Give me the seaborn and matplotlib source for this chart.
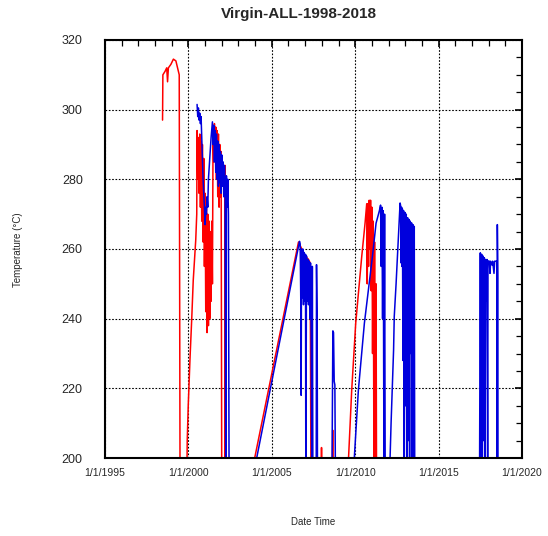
# Virgin-ALL-1998-2018 temperature record, two sensors (red, blue).
import numpy as np
import pandas as pd
import seaborn as sns
import matplotlib.pyplot as plt
from matplotlib.ticker import MultipleLocator

# Red series (decimal year, temperature degC); 190 = reading below the axis floor.
red_year = [
    1998.45, 1998.47, 1998.6, 1998.7, 1998.75, 1998.8, 1998.95, 1999.1, 1999.25, 1999.35, 1999.45, 1999.5,
    1999.9, 1999.93, 1999.99, 2000.1, 2000.2, 2000.29, 2000.44, 2000.5,
    2000.52, 2000.56, 2000.6, 2000.64, 2000.68, 2000.72, 2000.76, 2000.8, 2000.84, 2000.88, 2000.92, 2000.96,
    2001.0, 2001.04, 2001.08, 2001.12, 2001.16, 2001.2, 2001.24, 2001.28, 2001.32, 2001.36, 2001.4, 2001.44,
    2001.48, 2001.52, 2001.56, 2001.6, 2001.64, 2001.68, 2001.72, 2001.76, 2001.8, 2001.84, 2001.88, 2001.92,
    2001.96, 2002.0, 2002.18, 2002.2, 2002.22,
    2003.55, 2006.6, 2006.7, 2006.8, 2006.9, 2007.0, 2007.1, 2007.2, 2007.3, 2007.35,
    2007.95, 2007.98, 2008.01, 2008.62, 2008.65, 2008.68,
    2009.55, 2009.6, 2009.79, 2010.03, 2010.39, 2010.59, 2010.69, 2010.72, 2010.76, 2010.8, 2010.84, 2010.88,
    2010.92, 2010.96, 2011.0, 2011.04, 2011.08, 2011.12, 2011.16, 2011.2, 2011.25, 2011.28,
]
red_temp = [
    297, 310, 311, 312, 308, 312, 313, 314.5, 314, 312, 310, 190,
    190, 205, 215, 229, 240, 251, 262.6, 270,
    294, 280, 292, 276, 293, 272, 291, 268, 290, 262, 286, 255,
    276, 242, 272, 236, 270, 238, 268, 240, 265, 245, 268, 250,
    295, 285, 296, 286, 295, 280, 294, 275, 293, 272, 290, 275,
    288, 190, 190, 284, 190,
    190, 262, 261, 260, 259, 258, 257.5, 257, 256, 190,
    190, 203, 190, 190, 208, 190,
    190, 200, 219.5, 238.7, 257.8, 267.4, 273, 250, 273, 255, 274, 260,
    274, 248, 272, 230, 268, 200, 262, 190, 250, 190,
]

# Blue series (decimal year, temperature degC).
blue_year = [
    2000.52, 2000.56, 2000.6, 2000.64, 2000.68, 2000.72, 2000.76, 2000.8, 2000.84, 2000.88, 2000.92, 2000.96,
    2001.0, 2001.04, 2001.08, 2001.12, 2001.16, 2001.2, 2001.28, 2001.36, 2001.44, 2001.48, 2001.52, 2001.56,
    2001.6, 2001.64, 2001.68, 2001.72, 2001.76, 2001.8, 2001.84, 2001.88, 2001.92, 2001.96, 2002.0, 2002.04,
    2002.08, 2002.12, 2002.16, 2002.2, 2002.24, 2002.28, 2002.32, 2002.36, 2002.4, 2002.44,
    2003.68, 2006.66, 2006.7, 2006.74, 2006.76, 2006.78, 2006.82, 2006.86, 2006.9, 2006.94, 2006.98, 2007.02,
    2007.04, 2007.08, 2007.12, 2007.16, 2007.2, 2007.24, 2007.28, 2007.32, 2007.36, 2007.4, 2007.43, 2007.46,
    2007.5, 2007.66, 2007.68, 2007.72, 2007.74,
    2008.6, 2008.66, 2008.7, 2008.74, 2008.78, 2008.82,
    2009.9, 2009.95, 2010.19, 2010.55, 2011.03, 2011.25, 2011.45, 2011.52, 2011.56, 2011.6, 2011.64, 2011.68,
    2011.72, 2011.76, 2011.8,
    2012.05, 2012.09, 2012.15, 2012.22, 2012.3, 2012.34, 2012.45, 2012.55, 2012.63, 2012.69, 2012.72, 2012.75,
    2012.78, 2012.8, 2012.83, 2012.86, 2012.9, 2012.94, 2012.98, 2013.02, 2013.06, 2013.1, 2013.14, 2013.18,
    2013.22, 2013.26, 2013.3, 2013.34, 2013.38, 2013.42, 2013.46, 2013.5, 2013.54, 2013.57,
    2017.45, 2017.5, 2017.54, 2017.58, 2017.62, 2017.66, 2017.7, 2017.74, 2017.78, 2017.82, 2017.86, 2017.9,
    2017.94, 2017.96, 2018.04, 2018.08, 2018.12, 2018.2, 2018.24, 2018.32, 2018.36, 2018.5, 2018.51, 2018.52,
    2018.55, 2018.56,
]
blue_temp = [
    301.5, 298, 300.5, 297, 299, 296, 298, 292, 286, 280, 276, 272,
    267, 272, 270, 275, 272, 280, 286, 292, 296.5, 290, 295.5, 285,
    294, 282, 293, 280, 291, 278, 290, 279, 288, 276, 287, 278,
    285, 275, 284, 279, 190, 281, 272, 280, 270, 190,
    190, 262.2, 261.5, 244, 218, 260, 246, 260, 244, 259, 245, 258.5,
    190, 258, 245, 257, 244, 256.5, 240, 256, 235, 190, 255, 200,
    190, 190, 255.5, 238, 190,
    190, 236.5, 236, 222, 221, 190,
    190, 200.4, 219.5, 238.7, 257.8, 267.4, 271, 272.6, 255, 272, 240, 271,
    200, 270, 190,
    190, 200, 210, 219.5, 231, 240.6, 250, 259.7, 267.4, 273.2, 272.5, 256,
    272, 255, 271.5, 228, 271, 190, 270.5, 215, 270, 190, 269, 205,
    268.5, 190, 268, 230, 267.5, 190, 267, 200, 266.5, 190,
    190, 258.9, 200, 258.5, 190, 258, 205, 257.5, 190, 257, 245, 257,
    190, 256.6, 256.5, 253, 256.5, 255.4, 256.5, 253, 256.5, 256.5, 190, 267,
    252, 190,
]

x_ticks = [1995, 2000, 2005, 2010, 2015, 2020]
x_tick_labels = ["1/1/1995", "1/1/2000", "1/1/2005", "1/1/2010", "1/1/2015", "1/1/2020"]
y_ticks = [200, 220, 240, 260, 280, 300, 320]

red_df = pd.DataFrame({"year": red_year, "temp": red_temp})
blue_df = pd.DataFrame({"year": blue_year, "temp": blue_temp})

sns.set_style("white")
plt.rcParams['font.family'] = ['Liberation Sans', 'DejaVu Sans']

fig = plt.figure(figsize=(5.48, 5.36), dpi=100)
ax = fig.add_axes([0.1916, 0.1455, 0.761, 0.7799])

sns.lineplot(data=red_df, x="year", y="temp", sort=False, estimator=None,
             color="#ff0000", linewidth=1.1, ax=ax)
sns.lineplot(data=blue_df, x="year", y="temp", sort=False, estimator=None,
             color="#0000dd", linewidth=1.1, ax=ax)

ax.set_xlim(1995, 2020)
ax.set_ylim(200, 320)
ax.set_xticks(x_ticks)
ax.set_xticklabels(x_tick_labels)
ax.set_yticks(y_ticks)
ax.xaxis.set_minor_locator(MultipleLocator(1))
ax.yaxis.set_minor_locator(MultipleLocator(5))
ax.tick_params(which="both", direction="in", top=True, right=True, color="black")
ax.tick_params(which="major", length=5, width=1.2)
ax.tick_params(which="minor", length=4, width=0.9)
ax.tick_params(axis="y", labelsize=9, pad=16)
ax.tick_params(axis="x", labelsize=7.5, pad=7)
ax.grid(True, which="major", color="black", linestyle=(0, (1.5, 1.5)), linewidth=0.8)
for spine in ax.spines.values():
    spine.set_linewidth(1.5)
    spine.set_color("black")

ax.set_xlabel("")
ax.set_ylabel("")
fig.text(0.033, 0.535, "Temperature (°C)", rotation=90, ha="center", va="center", fontsize=7)
fig.text(0.572, 0.026, "Date Time", ha="center", va="center", fontsize=7)
fig.text(0.545, 0.974, "Virgin-ALL-1998-2018", ha="center", va="center",
         fontsize=11, fontweight="bold")

fig.savefig("out.png", dpi=100)
